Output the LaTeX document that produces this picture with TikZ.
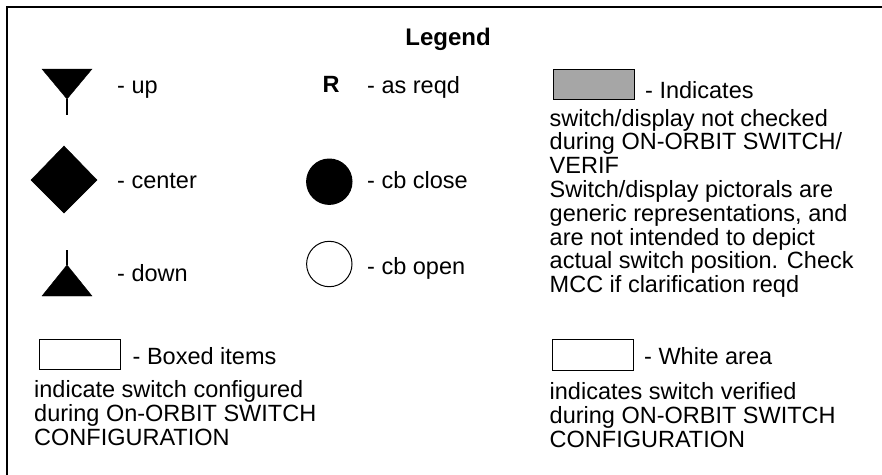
\documentclass[tikz,border=0pt]{standalone}
\usepackage{fontspec}
\setmainfont{Liberation Sans}
\usetikzlibrary{shapes.geometric}
\definecolor{boxgray}{RGB}{166,166,166}
\tikzset{lbl/.style={anchor=base west,inner sep=0pt,font=\fontsize{23.5}{24}\selectfont},
  swbox/.style={draw,line width=1pt,minimum width=81pt,minimum height=30.5pt,inner sep=0pt},
  stem/.style={line width=1.5pt}}

\begin{document}
\begin{tikzpicture}[x=1pt,y=-1pt]
  \useasboundingbox (0,0) rectangle (882,474);
  \clip (0,0) rectangle (882,474);
  \draw[line width=2pt](6.7,480)--(6.7,7.3)--(890,7.3);
  \node[lbl,anchor=base,font=\fontsize{24}{24}\selectfont\bfseries](title) at (448,45){Legend};
  % up / center / down
  \filldraw (42,69)--(92,69)--(67,99)--cycle;
  \draw[stem](67,99)--(67,115);
  \filldraw (31,180)--(64,146)--(97,180)--(64,213)--cycle;
  \filldraw (42,296)--(92,296)--(67,265)--cycle;
  \draw[stem](67,265)--(67,250);
  \node[lbl](up) at (117,93.3){- up};
  \node[lbl](center) at (117,188){- center};
  \node[lbl](down) at (117,281.7){- down};
  % as reqd, cb
  \node[lbl,font=\fontsize{23.5}{24}\selectfont\bfseries](R) at (322.5,92.7){R};
  \node[lbl](reqd) at (367,93){- as reqd};
  \filldraw[line width=1pt](329.3,181.7) circle (22.7);
  \draw[line width=1pt](329.3,264) circle (22.7);
  \node[lbl](close) at (367,188.3){- cb close};
  \node[lbl](open) at (367,274.5){- cb open};
  % gray box
  \node[swbox,fill=boxgray](gray) at (593.5,84.5){};
  \node[lbl](ind) at (645,98){- Indicates};
  \foreach \t [count=\i] in {switch/display not checked,during ON-ORBIT SWITCH/,VERIF,
      Switch/display pictorals are,{generic representations, and},are not intended to depict,
      actual switch position. Check,MCC if clarification reqd}
    \node[lbl](g\i) at (549.5,{126+23.8*(\i-1)}){\t};
  % boxed items
  \node[swbox](boxed) at (79.5,354.5){};
  \node[lbl](bx) at (132.5,364){- Boxed items};
  \node[lbl](bx1) at (34,397.5){indicate switch configured};
  \node[lbl](bx2) at (34,421.5){during On-ORBIT SWITCH};
  \node[lbl](bx3) at (34,445.5){CONFIGURATION};
  % white area
  \node[swbox](white) at (593,355){};
  \node[lbl](wh) at (644,364){- White area};
  \node[lbl](wh1) at (549.5,399){indicates switch verified};
  \node[lbl](wh2) at (549.5,423){during ON-ORBIT SWITCH};
  \node[lbl](wh3) at (549.5,447){CONFIGURATION};
\end{tikzpicture}
\end{document}
